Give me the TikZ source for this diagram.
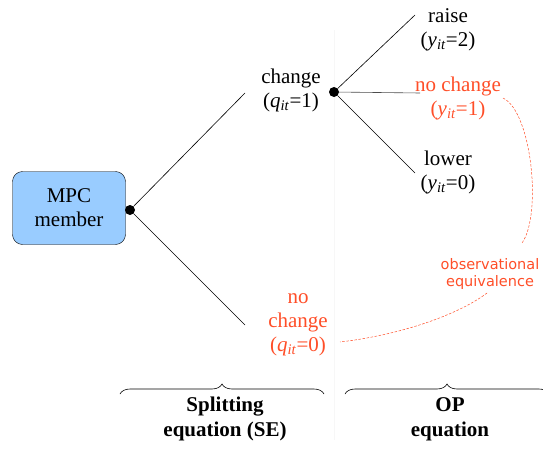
\documentclass[tikz,border=0pt]{standalone}
\usepackage{fontspec}
\setmainfont{Liberation Serif}
\newfontfamily\obsfont{DejaVu Sans}
\usepackage{xcolor}
\usetikzlibrary{positioning,calc,decorations.pathreplacing}

\definecolor{obsred}{RGB}{255,78,40}
\definecolor{mpcblue}{RGB}{153,204,255}

\tikzset{
    mpcbox/.style={draw, fill=mpcblue, rounded corners=10pt, minimum width=113pt, minimum height=73pt, align=center},
    knot/.style={circle, fill=black, inner sep=0pt, minimum size=10pt},
    branch/.style={black, line width=0.6pt},
    lbl/.style={align=center, inner sep=1pt},
    redlbl/.style={lbl, text=obsred},
    obsline/.style={obsred, dashed, dash pattern=on 2.5pt off 1.6pt, line width=0.5pt},
    bracket/.style={decorate, decoration={brace, amplitude=10pt}, line width=0.6pt}
}

\newcommand{\itvar}[2]{(\textit{#1}\textsubscript{\textit{it}}=#2)}

\begin{document}
\begin{tikzpicture}[x=1pt, y=1pt, font=\fontsize{21}{24}\selectfont]
    \useasboundingbox (0,0) rectangle (543,-452);

    % faint divider
    \draw[black!3, line width=0.5pt] (334,-30) -- (334,-440);

    % MPC member
    \node[mpcbox] (mpc) at (69,-208) {MPC\\member};
    \node[knot] (split) at (130,-210) {};

    % Splitting branches
    \coordinate (chgEnd) at (245,-93);
    \coordinate (nochgEnd) at (245,-325);
    \draw[branch] (split) -- (chgEnd);
    \draw[branch] (split) -- (nochgEnd);
    \node[lbl] (change) at (291,-90) {change\\\itvar{q}{1}};
    \node[redlbl] (nochange) at (298,-325) {no\\change\\\itvar{q}{0}};

    % OP branches
    \node[knot] (op) at (334,-92) {};
    \coordinate (raiseEnd) at (415,-15);
    \coordinate (holdEnd) at (420,-93);
    \coordinate (lowerEnd) at (415,-173);
    \draw[branch] (op) -- (raiseEnd);
    \draw[branch, black!70] (op) -- (holdEnd);
    \draw[branch] (op) -- (lowerEnd);
    \node[lbl] (raise) at (448,-30) {raise\\\itvar{y}{2}};
    \node[redlbl] (hold) at (458,-98) {no change\\\itvar{y}{1}};
    \node[lbl] (lower) at (448,-172) {lower\\\itvar{y}{0}};

    % observational equivalence
    \node[redlbl, font=\obsfont\fontsize{14.5}{17}\selectfont] (obs) at (490,-274) {observational\\equivalence};
    \coordinate (holdTail) at (503,-98);
    \coordinate (obsTop) at (522,-243);
    \coordinate (obsBot) at (487,-293);
    \coordinate (nochgTail) at (340,-342);
    \draw[obsline] (holdTail) .. controls (532,-112) and (542,-215) .. (obsTop);
    \draw[obsline] (obsBot) .. controls (458,-315) and (400,-335) .. (nochgTail);

    % braces
    \coordinate (seL) at (120,-394);
    \coordinate (seR) at (324,-394);
    \coordinate (opL) at (345,-394);
    \coordinate (opR) at (549,-394);
    \draw[bracket] (seL) -- (seR);
    \draw[bracket] (opL) -- (opR);
    \node[lbl, font=\bfseries\fontsize{21}{25}\selectfont] (se) at (225,-419) {Splitting\\equation (SE)};
    \node[lbl, font=\bfseries\fontsize{21}{25}\selectfont] (opeq) at (450,-419) {OP\\equation};
\end{tikzpicture}
\end{document}
